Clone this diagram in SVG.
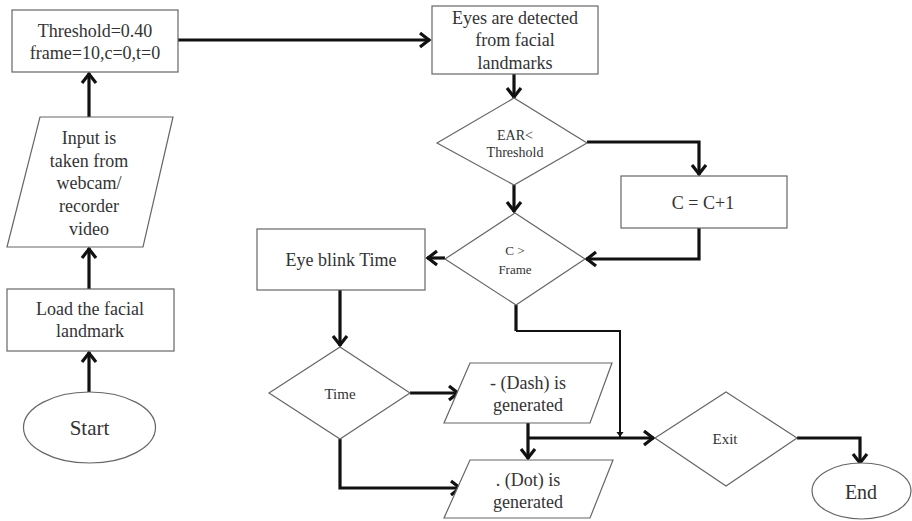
<svg xmlns="http://www.w3.org/2000/svg" width="912" height="521" viewBox="0 0 912 521">
<style>
.shape{fill:#fff;stroke:#666;stroke-width:1.2}
.t{font-family:"Liberation Serif","Times New Roman",serif;fill:#333;text-anchor:middle;dominant-baseline:central}
.c{fill:none;stroke:#111;stroke-width:3.2}
.thin{fill:none;stroke:#111;stroke-width:2}
</style>
<defs>
<marker id="ah" viewBox="-12 -9 14 18" markerWidth="14" markerHeight="18" refX="0" refY="0" orient="auto" markerUnits="userSpaceOnUse">
<path d="M-10,-7 L-1,0 L-10,7" fill="none" stroke="#111" stroke-width="3.2"/>
</marker>
<marker id="ahs" viewBox="-6 -5 8 10" markerWidth="8" markerHeight="10" refX="0" refY="0" orient="auto" markerUnits="userSpaceOnUse">
<path d="M-5,-3.5 L0,0 L-5,3.5 Z" fill="#111"/>
</marker>
</defs>
<rect width="912" height="521" fill="#fff"/>
<g id="connectors">
<path class="c" d="M89,392 V352" marker-end="url(#ah)"/>
<path class="c" d="M89,289 V248" marker-end="url(#ah)"/>
<path class="c" d="M89,117 V73" marker-end="url(#ah)"/>
<path class="c" d="M178,40 H430" marker-end="url(#ah)"/>
<path class="c" d="M514,74 V98" marker-end="url(#ah)"/>
<path class="c" d="M587,142 H699 V175" marker-end="url(#ah)"/>
<path class="c" d="M514,185 V212" marker-end="url(#ah)"/>
<path class="c" d="M699,228 V259 H586" marker-end="url(#ah)"/>
<path class="c" d="M445,258 H427" marker-end="url(#ah)"/>
<path class="c" d="M340,290 V346" marker-end="url(#ah)"/>
<path class="c" d="M410,393 H459" marker-end="url(#ah)"/>
<path class="c" d="M340,439 V488 H461" marker-end="url(#ah)"/>
<path class="c" d="M528,423 V459" marker-end="url(#ah)"/>
<path class="c" d="M528,438 H654" marker-end="url(#ah)"/>
<path class="c" d="M516,305 V331"/>
<path class="thin" d="M516,331 H620 V437" marker-end="url(#ahs)"/>
<path class="c" d="M797,438 H860 V464" marker-end="url(#ah)"/>
</g>
<g id="start">
<ellipse class="shape" cx="89.5" cy="427.5" rx="66" ry="35.5"/>
<text class="t" x="89.5" y="428" font-size="21">Start</text>
</g>
<g id="load">
<rect class="shape" x="7" y="289" width="167" height="62"/>
<text class="t" x="90" y="309" font-size="18">Load the facial</text>
<text class="t" x="90" y="331" font-size="18">landmark</text>
</g>
<g id="input">
<polygon class="shape" points="40,117 173,117 143,247 7,247"/>
<text class="t" x="89" y="138" font-size="18">Input is</text>
<text class="t" x="89" y="161" font-size="18">taken from</text>
<text class="t" x="89" y="183" font-size="18">webcam/</text>
<text class="t" x="89" y="206" font-size="18">recorder</text>
<text class="t" x="89" y="229" font-size="18">video</text>
</g>
<g id="init">
<rect class="shape" x="12" y="10" width="166" height="62"/>
<text class="t" x="95" y="31" font-size="18">Threshold=0.40</text>
<text class="t" x="95" y="53" font-size="18">frame=10,c=0,t=0</text>
</g>
<g id="eyes">
<rect class="shape" x="432" y="6" width="166" height="68"/>
<text class="t" x="515" y="18" font-size="18">Eyes are detected</text>
<text class="t" x="515" y="40" font-size="18">from facial</text>
<text class="t" x="515" y="63" font-size="18">landmarks</text>
</g>
<g id="ear">
<polygon class="shape" points="437,143 514,98 587,143 514,185"/>
<text class="t" x="515" y="135" font-size="14">EAR&lt;</text>
<text class="t" x="515" y="152" font-size="14">Threshold</text>
</g>
<g id="incr">
<rect class="shape" x="621" y="176" width="166" height="52"/>
<text class="t" x="703" y="203" font-size="18">C = C+1</text>
</g>
<g id="cframe">
<polygon class="shape" points="445,259 515,213 585,259 516,305"/>
<text class="t" x="515" y="250" font-size="13">C &gt;</text>
<text class="t" x="515" y="269" font-size="13">Frame</text>
</g>
<g id="blink">
<rect class="shape" x="257" y="229" width="168" height="61"/>
<text class="t" x="341" y="260" font-size="18">Eye blink Time</text>
</g>
<g id="time">
<polygon class="shape" points="269,393 340,347 410,393 340,439"/>
<text class="t" x="340" y="394" font-size="15">Time</text>
</g>
<g id="dash">
<polygon class="shape" points="470,363 612,363 590,423 444,423"/>
<text class="t" x="528" y="383" font-size="18">- (Dash) is</text>
<text class="t" x="528" y="405" font-size="18">generated</text>
</g>
<g id="dot">
<polygon class="shape" points="470,460 613,460 590,518 444,518"/>
<text class="t" x="528" y="480" font-size="18">. (Dot) is</text>
<text class="t" x="528" y="502" font-size="18">generated</text>
</g>
<g id="exit">
<polygon class="shape" points="655,438 726,392 797,438 726,486"/>
<text class="t" x="725" y="439" font-size="15">Exit</text>
</g>
<g id="end">
<ellipse class="shape" cx="861.5" cy="491" rx="49.5" ry="28"/>
<text class="t" x="861" y="492" font-size="20">End</text>
</g>
</svg>
